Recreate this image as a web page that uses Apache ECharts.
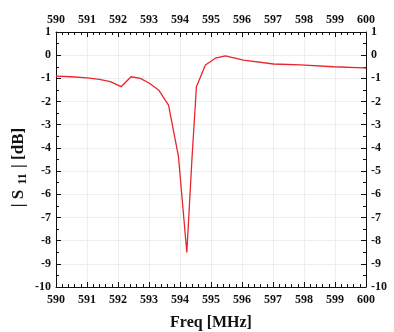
<!DOCTYPE html>
<html><head><meta charset="utf-8">
<script src="https://cdn.jsdelivr.net/npm/echarts@6/dist/echarts.min.js"></script>
<style>html,body{margin:0;padding:0;background:#fff}#c{width:394px;height:332px}</style>
</head><body><div id="c"></div>
<script>
const freq = [590, 590.5, 591, 591.4, 591.75, 592.1, 592.42, 592.72, 593.0, 593.31, 593.63, 593.95, 594.22, 594.39, 594.53, 594.82, 595.14, 595.46, 596.05, 597.02, 597.88, 598.96, 599.92, 600];
const s11  = [-0.9, -0.93, -0.98, -1.04, -1.14, -1.36, -0.93, -1.0, -1.2, -1.5, -2.15, -4.37, -8.51, -4.37, -1.36, -0.42, -0.13, -0.03, -0.21, -0.38, -0.42, -0.5, -0.55, -0.56];
const xTicks = [590, 591, 592, 593, 594, 595, 596, 597, 598, 599, 600];
const yTicks = [1, 0, -1, -2, -3, -4, -5, -6, -7, -8, -9, -10];

const font = 'Liberation Serif';
const lbl = {fontFamily: font, fontWeight: 'bold', fontSize: 12, color: '#111'};
function xAx(pos, show) {
  return {
    type: 'value', position: pos, min: xTicks[0], max: xTicks[xTicks.length-1], interval: 1,
    axisLine: {show: true, onZero: false, lineStyle: {color: '#111', width: 1}},
    axisTick: {show: true, inside: true, length: 5, lineStyle: {color: '#111'}},
    minorTick: {show: true, splitNumber: 5, length: 3, lineStyle: {color: '#111'}},
    axisLabel: Object.assign({margin: pos === 'bottom' ? 7 : 6}, lbl),
    splitLine: {show: show, lineStyle: {color: '#eeeeee', width: 1}},
    name: pos === 'bottom' ? 'Freq [MHz]' : '',
    nameLocation: 'middle', nameGap: 28,
    nameTextStyle: {fontFamily: font, fontWeight: 'bold', fontSize: 16, color: '#111'}
  };
}
function yAx(pos, show) {
  return {
    type: 'value', position: pos, min: yTicks[yTicks.length-1], max: yTicks[0], interval: 1,
    axisLine: {show: true, onZero: false, lineStyle: {color: '#111', width: 1}},
    axisTick: {show: true, inside: true, length: 5, lineStyle: {color: '#111'}},
    minorTick: {show: true, splitNumber: 2, length: 3, lineStyle: {color: '#111'}},
    axisLabel: Object.assign({margin: 5}, lbl),
    splitLine: {show: show, lineStyle: {color: '#eeeeee', width: 1}},
    name: pos === 'left' ? '| S {sub|11} | [dB]' : '',
    nameLocation: 'middle', nameGap: 27, nameRotate: 90, nameMoveOverlap: false,
    nameTextStyle: {fontFamily: font, fontWeight: 'bold', fontSize: 17, color: '#111', padding: [0, 16, 0, 0],
      rich: {sub: {fontFamily: font, fontWeight: 'bold', fontSize: 12, color: '#111', padding: [9, 1, 0, 1]}}}
  };
}
const chart = echarts.init(document.getElementById('c'), null, {renderer: 'canvas'});
chart.setOption({
  animation: false,
  backgroundColor: '#fff',
  grid: {left: 56, right: 28, top: 32, bottom: 45, containLabel: false, outerBoundsMode: 'none'},
  xAxis: [xAx('bottom', true), xAx('top', false)],
  yAxis: [yAx('left', true), yAx('right', false)],
  series: [{
    type: 'line', xAxisIndex: 0, yAxisIndex: 0,
    data: freq.map((f, i) => [f, s11[i]]),
    showSymbol: false, symbol: 'none',
    lineStyle: {color: '#e8262b', width: 1.3}
  }]
});
</script></body></html>
